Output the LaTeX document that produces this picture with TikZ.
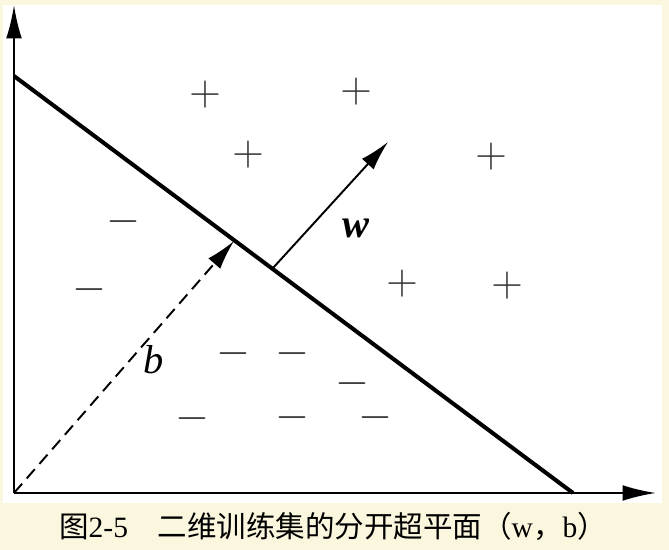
\documentclass[tikz,border=0pt]{standalone}
\usepackage{fontspec}
\setmainfont{Liberation Serif}
\newfontfamily\cjk{Noto Sans CJK SC}
\usetikzlibrary{arrows.meta}

\definecolor{paper}{RGB}{251,247,223}

\begin{document}
\begin{tikzpicture}[
    x=0.02cm, y=-0.02cm,
    >={Latex[length=19pt,width=9pt]},
    axis/.style={line width=1.3pt, ->},
    plane/.style={line width=2.3pt},
    vec/.style={line width=1.1pt, -{Latex[length=17pt,width=9pt]}},
    sign/.style={font=\fontsize{25}{25}\selectfont, text=black!80, inner sep=0pt},
    every node/.style={inner sep=0pt}
]

% page and white panel
\fill[paper] (0,0) rectangle (669,550);
\fill[white] (3,5) rectangle (662,503);

\coordinate (O) at (14,493);
\coordinate (xend) at (656,493);
\coordinate (yend) at (14,5);
\coordinate (hA) at (14,76);
\coordinate (hB) at (573,493);
\coordinate (bfoot) at (234,241);
\coordinate (wbase) at (273,268);
\coordinate (wtip) at (388,142);

% axes and hyperplane
\draw[axis] (O) -- (xend);
\draw[axis] (O) -- (yend);
\draw[plane] (hA) -- (hB);

\draw[vec, dashed, dash pattern=on 7pt off 4pt] (O) -- (bfoot);
\draw[vec] (wbase) -- (wtip);

\node[font=\fontsize{23}{23}\selectfont\bfseries\itshape] (wlab) at (356,228) {w};
\node[font=\fontsize{23}{23}\selectfont\itshape] (blab) at (154,360) {b};

% positive samples
\foreach \x/\y [count=\i] in {205/95, 356/92, 248/155, 491/157, 402/284, 507/286}
    \node[sign] (p\i) at (\x,\y) {$+$};

% negative samples
\foreach \x/\y [count=\i] in {123/222, 89/290, 233/354, 292/354, 352/384, 192/419, 292/418, 375/418}
    \node[sign] (n\i) at (\x,\y) {$-$};

\node[font=\fontsize{16.8}{18}\selectfont] (cap) at (333,526)
    {\cjk 图{\rmfamily 2-5}　二维训练集的分开超平面（{\rmfamily w}，{\rmfamily b}）};

\end{tikzpicture}
\end{document}
